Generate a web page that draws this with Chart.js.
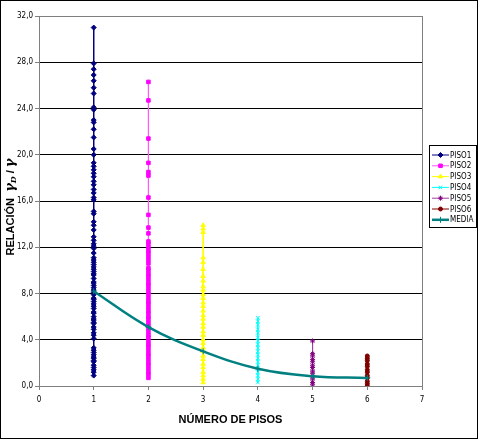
<!DOCTYPE html>
<html>
<head>
<meta charset="utf-8">
<script src="https://cdn.jsdelivr.net/npm/chart.js@4.4.0/dist/chart.umd.min.js"></script>
<style>
  body { margin: 0; background: #fff; }
  canvas { display: block; }
</style>
</head>
<body>
<canvas id="pisos" width="478" height="440"></canvas>
<script>
// values (relacion gamma_D / gamma per number of floors)
var piso1 = [31.0, 27.9, 27.4, 26.9, 26.4, 25.8, 25.3, 24.1, 23.9, 23.0, 22.8, 22.2, 21.5, 20.5, 20.0,
  19.3, 19.0, 18.7, 18.4, 18.1, 17.7, 17.4, 17.0, 16.7, 16.3, 16.1, 15.1, 14.9, 14.2, 13.9, 13.5,
  12.9, 12.6, 12.3, 12.1, 11.9, 11.5, 11.1, 10.9, 10.7, 10.5, 10.3, 10.1, 9.9, 9.7, 9.6, 9.3, 9.0,
  8.9, 8.7, 8.5, 8.3, 8.1, 7.9, 7.6, 7.5, 7.3, 7.1, 6.9, 6.7, 6.4, 6.3, 6.0, 5.8, 5.7, 5.5, 5.4,
  5.1, 4.9, 4.6, 4.4, 4.1, 3.3, 3.1, 2.9, 2.7, 2.5, 2.4, 2.2, 2.1, 1.8, 1.6, 1.4, 1.2, 0.9];
var piso2 = [26.3, 24.7, 21.4, 19.3, 18.5, 18.2, 16.3, 14.8, 13.7, 13.2, 12.5, 12.3, 12.0, 11.7, 11.5,
  11.2, 10.9, 10.6, 10.2, 10.0, 9.7, 9.5, 9.2, 8.9, 8.7, 8.4, 8.1, 7.9, 7.6, 7.3, 7.1, 6.8, 6.5,
  6.3, 6.0, 5.8, 5.5, 5.2, 5.0, 4.7, 4.4, 4.2, 3.9, 3.6, 3.4, 3.1, 2.8, 2.6, 2.3, 2.0, 1.8, 1.5,
  1.2, 1.0, 0.7];
var piso3 = [13.9, 13.6, 13.3, 11.1, 10.7, 10.1, 9.5, 9.1, 8.6, 8.3, 7.9, 7.6, 7.2, 6.9, 6.5, 6.1,
  5.8, 5.4, 5.1, 4.7, 4.4, 4.0, 3.7, 3.3, 3.0, 2.6, 2.3, 1.9, 1.6, 1.2, 0.9, 0.6, 0.3];
var piso4 = [5.9, 5.6, 5.3, 4.9, 4.6, 4.2, 3.9, 3.6, 3.3, 3.0, 2.7, 2.4, 2.1, 1.8, 1.5, 1.2, 0.9, 0.6, 0.3];
var piso5 = [3.9, 2.8, 2.6, 2.3, 2.1, 1.8, 1.6, 1.3, 1.1, 0.8, 0.6, 0.3, 0.1];
var piso6 = [2.6, 2.4, 2.2, 1.9, 1.7, 1.4, 1.2, 0.9, 0.7, 0.4, 0.2, 0.0];
var mediaPisos = [1, 2, 3, 4, 5, 6];
var media = [8.2, 5.1, 3.0, 1.5, 0.85, 0.7];
var xTicks = [0, 1, 2, 3, 4, 5, 6, 7];
var yTicks = [0, 4, 8, 12, 16, 20, 24, 28, 32];

var tickFont = { family: "'Liberation Sans Narrow', 'Arial Narrow', 'DejaVu Sans Condensed', 'Liberation Sans', Arial", size: 8 };

function column(piso, values) {
  return values.map(function(v){ return { x: piso, y: v }; });
}

function serie(label, piso, values, color, lineColor, style, r) {
  return {
    label: label,
    data: column(piso, values),
    showLine: true,
    borderColor: lineColor,
    borderWidth: 1,
    pointStyle: style,
    pointRadius: r,
    pointBorderColor: color,
    pointBackgroundColor: color,
    pointBorderWidth: 1
  };
}

var datasets = [
  serie('PISO1', 1, piso1, '#000080', '#000080', 'rectRot', 2.5),
  serie('PISO2', 2, piso2, '#ff00ff', '#ff55ff', 'rect', 2.5),
  serie('PISO3', 3, piso3, '#ffff00', '#ffff00', 'triangle', 2.5),
  serie('PISO4', 4, piso4, '#00ffff', '#00ffff', 'crossRot', 2.5),
  serie('PISO5', 5, piso5, '#800080', '#a040a0', 'star', 2.5),
  serie('PISO6', 6, piso6, '#800000', '#800000', 'circle', 2),
  {
    label: 'MEDIA',
    data: mediaPisos.map(function(p, i){ return { x: p, y: media[i] }; }),
    showLine: true,
    borderColor: '#008080',
    borderWidth: 2.5,
    tension: 0.4,
    pointStyle: 'cross',
    pointRadius: 3,
    pointBorderColor: '#008080',
    pointBorderWidth: 1,
    order: -1
  }
];

// frame, right border of plot, y title with subscript and the boxed legend
var extras = {
  id: 'extras',
  afterDraw: function(chart) {
    var c = chart.ctx, a = chart.chartArea;
    c.save();
    c.strokeStyle = '#808080';
    c.lineWidth = 1;
    c.beginPath();
    c.moveTo(Math.round(a.right) + 0.5, a.top);
    c.lineTo(Math.round(a.right) + 0.5, a.bottom);
    c.stroke();

    c.strokeStyle = '#000';
    c.strokeRect(0.5, 0.5, 477, 438);

    // y title
    c.save();
    c.translate(11, 207);
    c.rotate(-Math.PI / 2);
    c.fillStyle = '#000';
    c.textBaseline = 'middle';
    var parts = [
      { t: 'RELACIÓN  ', f: "bold 11px 'Liberation Sans', Arial", dy: 0 },
      { t: 'γ', f: "italic bold 13px 'DejaVu Serif', serif", dy: 0 },
      { t: 'D', f: "italic bold 8px 'DejaVu Serif', serif", dy: 3 },
      { t: ' / ', f: "bold 11px 'Liberation Sans', Arial", dy: 0 },
      { t: 'γ', f: "italic bold 13px 'DejaVu Serif', serif", dy: 0 }
    ];
    var total = 0;
    parts.forEach(function(p){ c.font = p.f; p.w = c.measureText(p.t).width; total += p.w; });
    var x = -total / 2;
    parts.forEach(function(p){ c.font = p.f; c.fillText(p.t, x, p.dy); x += p.w; });
    c.restore();

    // legend
    var lx = 429, ly = 145, lw = 47, lh = 82;
    c.fillStyle = '#fff';
    c.fillRect(lx, ly, lw, lh);
    c.strokeStyle = '#000';
    c.strokeRect(lx + 0.5, ly + 0.5, lw, lh);
    c.font = "8px 'Liberation Sans Narrow', 'Arial Narrow', 'DejaVu Sans Condensed', 'Liberation Sans', Arial";
    c.textBaseline = 'middle';
    chart.data.datasets.forEach(function(ds, i){
      var y = ly + 10 + i * 10.8;
      c.strokeStyle = ds.borderColor;
      c.lineWidth = ds.borderWidth;
      c.beginPath();
      c.moveTo(lx + 3, y);
      c.lineTo(lx + 20, y);
      c.stroke();
      c.fillStyle = ds.pointBackgroundColor || ds.pointBorderColor;
      c.strokeStyle = ds.pointBorderColor;
      c.lineWidth = 1;
      Chart.helpers.drawPoint(c, { pointStyle: ds.pointStyle, radius: ds.pointRadius, borderWidth: 1, rotation: 0 }, lx + 11.5, y);
      c.fillStyle = '#000';
      c.fillText(ds.label, lx + 21, y + 0.5);
    });
    c.restore();
  }
};

var chart = new Chart(document.getElementById('pisos'), {
  type: 'scatter',
  data: { datasets: datasets },
  plugins: [extras],
  options: {
    responsive: false,
    animation: false,
    layout: { padding: { top: 16, right: 56, left: 0, bottom: 0 } },
    plugins: { legend: { display: false }, tooltip: { enabled: false } },
    scales: {
      x: {
        type: 'linear',
        min: 0, max: 7,
        afterBuildTicks: function(s){ s.ticks = xTicks.map(function(v){ return { value: v }; }); },
        afterFit: function(s){ s.height = 54; },
        ticks: { color: '#000', font: tickFont, padding: 5, maxRotation: 0 },
        grid: { drawOnChartArea: false, color: '#808080', tickLength: 4 },
        border: { color: '#808080' },
        title: { display: true, text: 'NÚMERO DE PISOS', color: '#000',
                 font: { family: "'Liberation Sans', Arial", size: 11, weight: 'bold' }, padding: { top: 4, bottom: 13 } }
      },
      y: {
        min: 0, max: 32,
        afterBuildTicks: function(s){ s.ticks = yTicks.map(function(v){ return { value: v }; }); },
        afterFit: function(s){ s.width = 39; },
        ticks: {
          color: '#000', font: tickFont, padding: 2,
          callback: function(v){ return v.toFixed(1).replace('.', ','); }
        },
        grid: {
          color: function(ctx){ return ctx.tick && ctx.tick.value === 32 ? '#808080' : '#000'; },
          tickColor: '#808080',
          tickLength: 4
        },
        border: { color: '#808080' }
      }
    }
  }
});
</script>
</body>
</html>
